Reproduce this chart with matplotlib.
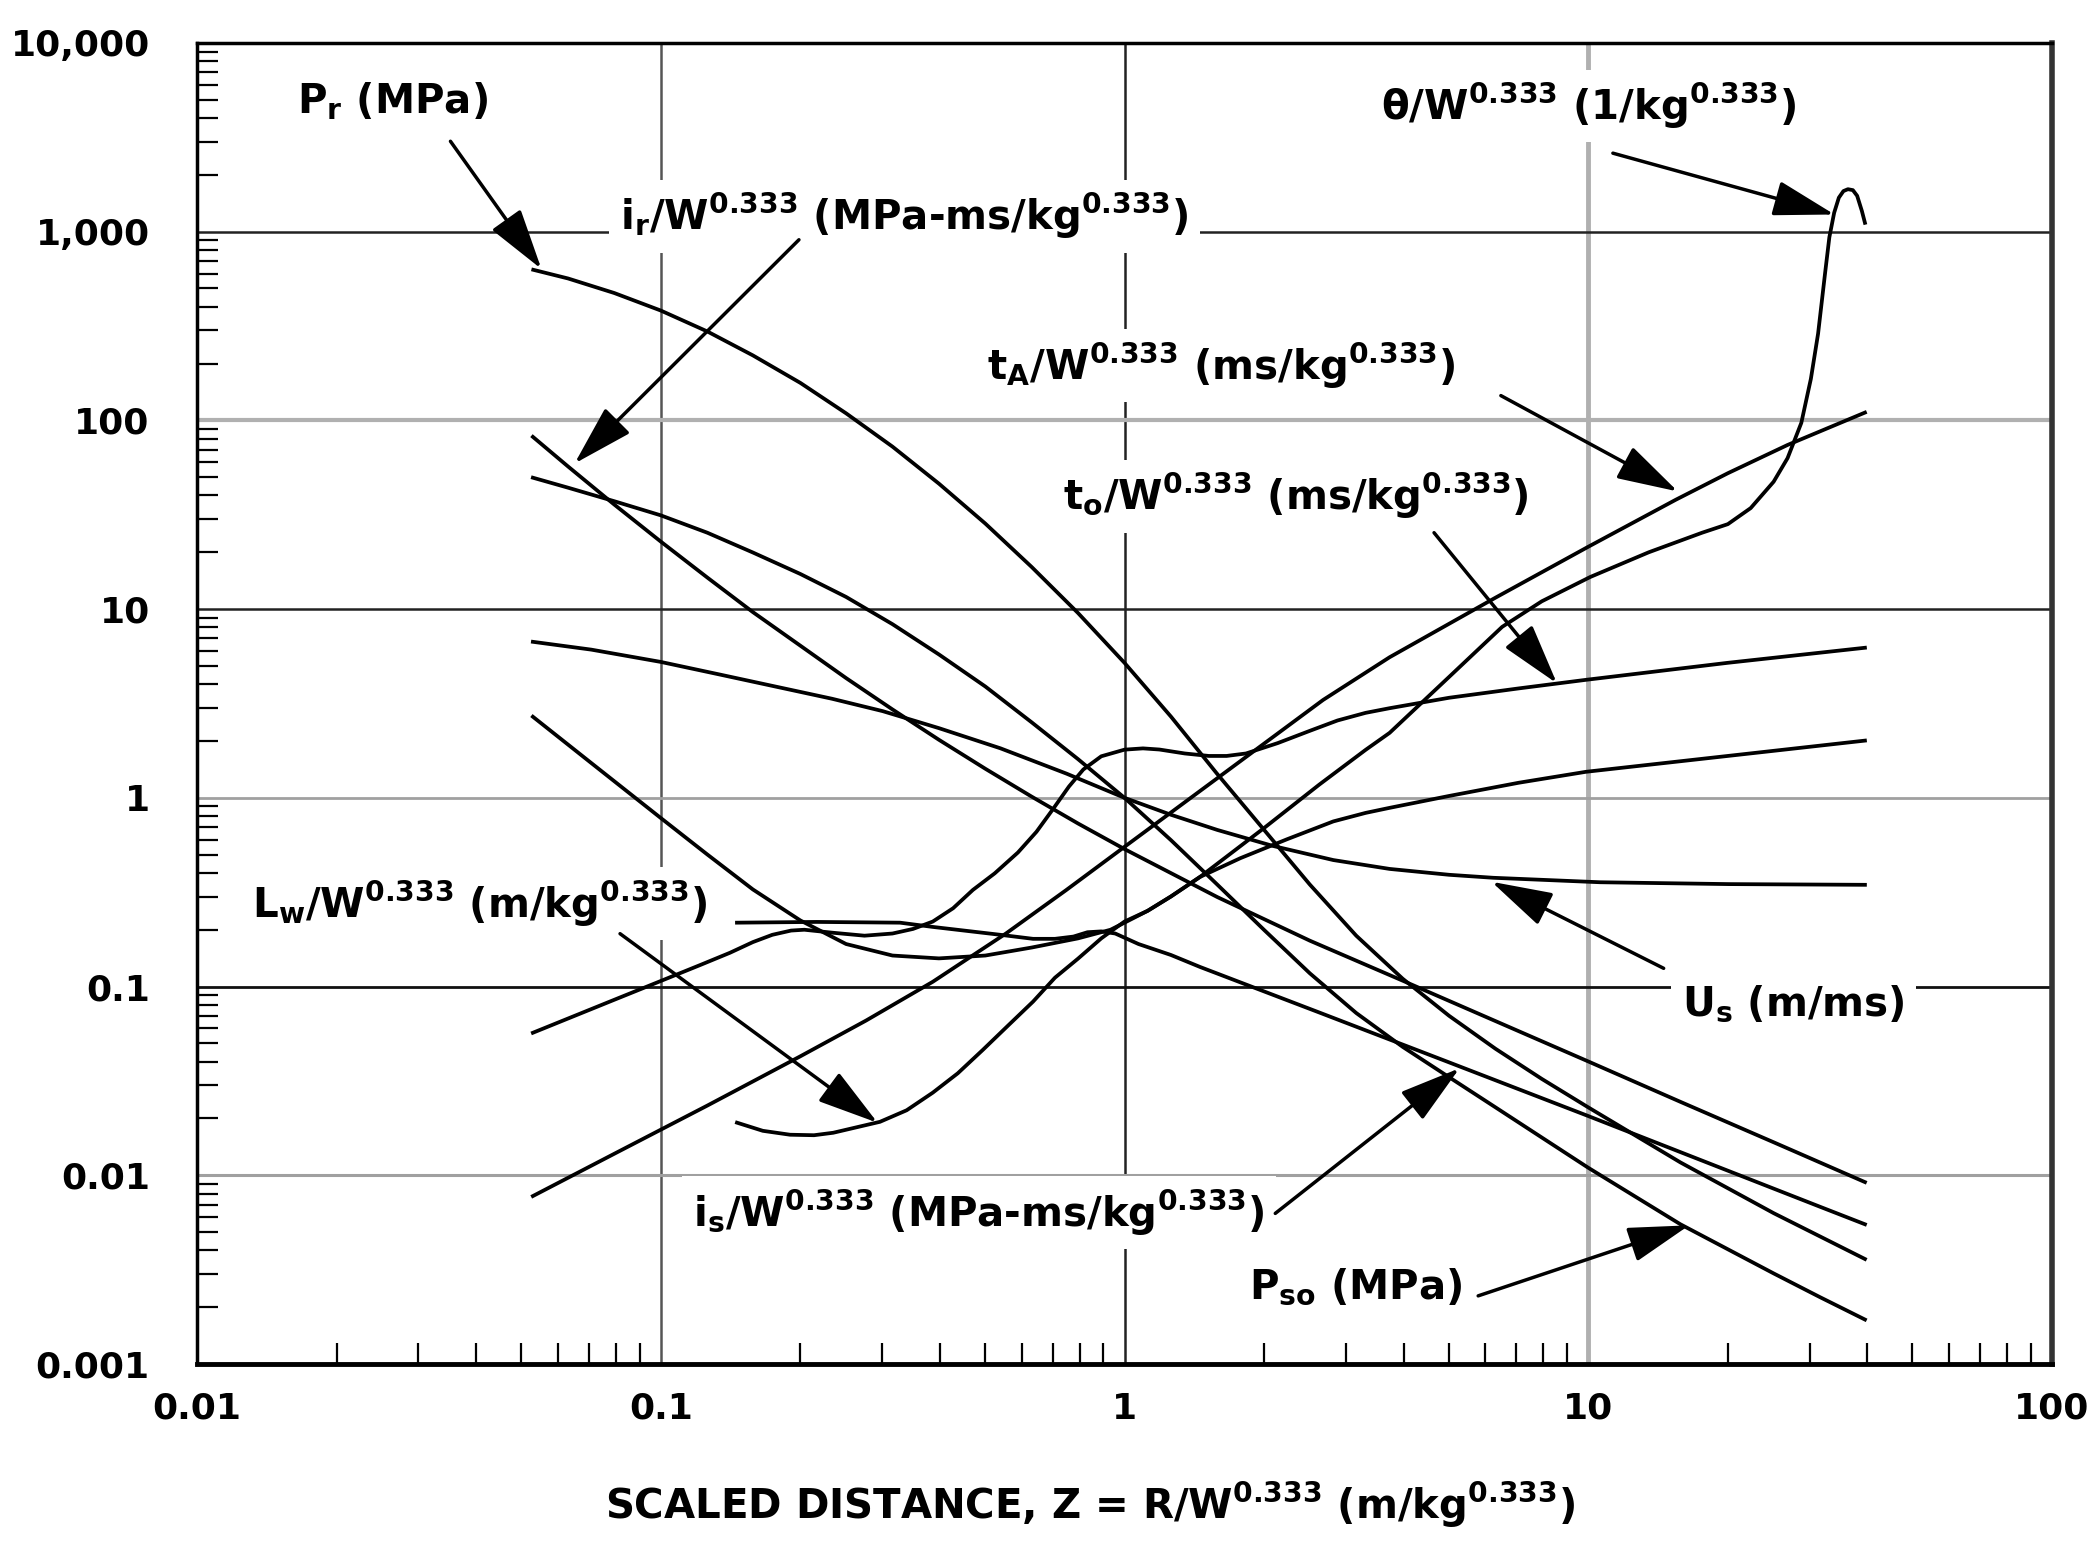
import matplotlib
matplotlib.use("Agg")
import matplotlib.pyplot as plt
from matplotlib.ticker import LogLocator, NullFormatter

plt.rcParams['font.family'] = ['DejaVu Sans']
plt.rcParams['font.weight'] = 'bold'
plt.rcParams['mathtext.fontset'] = 'custom'
plt.rcParams['mathtext.rm'] = 'DejaVu Sans:bold'
plt.rcParams['mathtext.it'] = 'DejaVu Sans:bold'
plt.rcParams['mathtext.bf'] = 'DejaVu Sans:bold'

# curves: scaled distance Z and value
pr_z = [0.0531, 0.0631, 0.0794, 0.1, 0.126, 0.158, 0.2, 0.251, 0.316, 0.398, 0.501, 0.631,
        0.794, 1.0, 1.26, 1.58, 2.0, 2.51, 3.16, 3.98, 5.01, 6.31, 7.94, 10, 15.8, 25.1, 39.5]
pr_v = [628, 565, 473, 382, 296, 221, 158, 109, 72.6, 46.2, 28.4, 16.7,
        9.53, 5.19, 2.69, 1.35, 0.676, 0.347, 0.186, 0.110, 0.070, 0.0468, 0.0324, 0.0229,
        0.0117, 0.0063, 0.0036]

ir_z = [0.053, 0.0631, 0.0794, 0.1, 0.126, 0.158, 0.2, 0.251, 0.316, 0.398, 0.501, 0.631,
        0.794, 1.0, 1.585, 2.51, 3.98, 6.31, 10, 15.8, 25.1, 39.5]
ir_v = [81.8, 57.0, 35.8, 22.8, 14.7, 9.64, 6.40, 4.31, 2.94, 2.03, 1.426, 1.014,
        0.731, 0.535, 0.298, 0.175, 0.1074, 0.0656, 0.0401, 0.0245, 0.01496, 0.0092]

pso_z = [0.053, 0.0631, 0.0794, 0.1, 0.126, 0.158, 0.2, 0.251, 0.316, 0.398, 0.501, 0.631,
         0.794, 1.0, 1.26, 1.585, 2.0, 2.51, 3.16, 3.98, 5.01, 6.31, 7.94, 10, 15.8, 25.1,
         31.6, 39.5]
pso_v = [49.7, 44.0, 37.3, 31.4, 25.4, 19.95, 15.35, 11.6, 8.32, 5.75, 3.89, 2.51,
         1.603, 1.0, 0.596, 0.347, 0.1995, 0.1175, 0.0724, 0.0479, 0.0331, 0.0229, 0.01585,
         0.01096, 0.0055, 0.00302, 0.00226, 0.00172]

us_z = [0.053, 0.0708, 0.1, 0.133, 0.18, 0.234, 0.301, 0.398, 0.54, 0.75, 1.0, 1.26, 1.585,
        2.09, 2.82, 3.73, 5.01, 6.24, 10.6, 20.1, 39.5]
us_v = [6.71, 6.10, 5.25, 4.52, 3.85, 3.35, 2.88, 2.34, 1.83, 1.343, 1.0, 0.813, 0.676,
        0.556, 0.468, 0.42, 0.391, 0.377, 0.357, 0.349, 0.346]

th_z = [0.053, 0.0708, 0.1, 0.126, 0.158, 0.2, 0.251, 0.316, 0.398, 0.501, 0.631, 0.794,
        0.933, 1.0, 1.122, 1.259, 1.455, 2.0, 2.63, 3.31, 3.73, 5.01, 6.52, 7.94, 10.1, 13.5,
        17.6, 20.0, 22.4, 25.1, 26.9, 28.8, 30.2, 31.3, 32.4, 33.1, 33.9, 34.7, 35.5, 36.3,
        37.2, 38.0, 38.9, 39.5]
th_v = [2.69, 1.53, 0.782, 0.501, 0.327, 0.224, 0.168, 0.146, 0.141, 0.146, 0.161, 0.180,
        0.20, 0.218, 0.252, 0.30, 0.381, 0.692, 1.175, 1.795, 2.21, 4.37, 8.05, 11.0, 14.8,
        20.0, 25.4, 28.2, 34.3, 47.3, 63.1, 97, 166, 288, 600, 933, 1259, 1514, 1641, 1679,
        1660, 1549, 1288, 1114]

lw_z = [0.146, 0.166, 0.19, 0.214, 0.2355, 0.297, 0.339, 0.386, 0.437, 0.495, 0.562, 0.635,
        0.708, 0.794, 0.891, 1.0, 1.122, 1.259, 1.455, 1.778, 2.24, 2.82, 3.31, 3.73, 5.01,
        7.08, 9.89, 19.95, 39.5]
lw_v = [0.019, 0.0172, 0.0164, 0.0163, 0.0168, 0.0192, 0.0221, 0.0274, 0.0347, 0.0462,
        0.0624, 0.0832, 0.1114, 0.1406, 0.180, 0.221, 0.252, 0.30, 0.381, 0.479, 0.603,
        0.750, 0.832, 0.885, 1.023, 1.202, 1.374, 1.666, 2.01]

is_z = [0.146, 0.217, 0.328, 0.386, 0.54, 0.635, 0.708, 0.776, 0.832, 0.891, 0.955, 1.072,
        1.259, 1.455, 2.64, 4.99, 10, 31.6, 39.5]
is_v = [0.218, 0.22, 0.218, 0.207, 0.188, 0.179, 0.179, 0.184, 0.194, 0.196, 0.191, 0.168,
        0.147, 0.127, 0.0726, 0.0398, 0.0206, 0.00681, 0.0055]

to_z = [0.053, 0.0794, 0.1, 0.1216, 0.141, 0.158, 0.174, 0.191, 0.204, 0.234, 0.275, 0.316,
        0.35, 0.386, 0.427, 0.471, 0.525, 0.589, 0.646, 0.701, 0.759, 0.815, 0.891, 1.0, 1.096,
        1.189, 1.349, 1.52, 1.66, 1.828, 2.14, 2.51, 2.88, 3.31, 3.73, 5.01, 7.08, 9.89, 19.95,
        39.5]
to_v = [0.0569, 0.0851, 0.107, 0.130, 0.151, 0.172, 0.188, 0.198, 0.20, 0.193, 0.186, 0.191,
        0.202, 0.221, 0.26, 0.325, 0.398, 0.513, 0.661, 0.871, 1.148, 1.413, 1.660, 1.80,
        1.828, 1.803, 1.718, 1.667, 1.667, 1.718, 1.95, 2.265, 2.57, 2.82, 2.985, 3.39, 3.80,
        4.22, 5.19, 6.24]

ta_z = [0.053, 0.0794, 0.126, 0.2, 0.277, 0.386, 0.555, 0.748, 1.0, 1.585, 2.68, 3.73, 6.31,
        10, 15.45, 20.0, 26.9, 39.5]
ta_v = [0.00776, 0.0130, 0.0234, 0.0427, 0.066, 0.106, 0.191, 0.324, 0.55, 1.27, 3.30, 5.56,
        11.5, 21.4, 38.0, 52.5, 74.1, 110]

x_ticks = [0.01, 0.1, 1, 10, 100]
x_labels = ['0.01', '0.1', '1', '10', '100']
y_ticks = [0.001, 0.01, 0.1, 1, 10, 100, 1000, 10000]
y_labels = ['0.001', '0.01', '0.1', '1', '10', '100', '1,000', '10,000']

fig = plt.figure(figsize=(20.89, 15.56), dpi=100)
ax = fig.add_axes([0.0943, 0.1234, 0.888, 0.849])
ax.set_xscale('log')
ax.set_yscale('log')
ax.set_xlim(0.01, 100)
ax.set_ylim(0.001, 10000)

# grid lines, mixed dark and grey like the original
for x, c, w in [(0.1, '#555555', 1.8), (1, '#222222', 1.8), (10, '#b0b0b0', 3.5)]:
    ax.axvline(x, color=c, lw=w, zorder=1)
for y, c, w in [(1000, '#222222', 1.8), (100, '#b0b0b0', 3.0), (10, '#222222', 1.8),
                (1, '#a0a0a0', 2.0), (0.1, '#111111', 2.0), (0.01, '#a0a0a0', 2.2)]:
    ax.axhline(y, color=c, lw=w, zorder=1)

for z, v in [(pr_z, pr_v), (ir_z, ir_v), (pso_z, pso_v), (us_z, us_v), (th_z, th_v),
             (lw_z, lw_v), (is_z, is_v), (to_z, to_v), (ta_z, ta_v)]:
    ax.plot(z, v, color='black', lw=2.7, zorder=2, solid_joinstyle='round')

ax.set_xticks(x_ticks)
ax.set_xticklabels(x_labels)
ax.set_yticks(y_ticks)
ax.set_yticklabels(y_labels)
ax.xaxis.set_minor_locator(LogLocator(base=10, subs=range(2, 10), numticks=20))
ax.yaxis.set_minor_locator(LogLocator(base=10, subs=range(2, 10), numticks=20))
ax.xaxis.set_minor_formatter(NullFormatter())
ax.yaxis.set_minor_formatter(NullFormatter())
ax.tick_params(axis='y', which='major', length=0, pad=34, labelsize=26)
ax.tick_params(axis='x', which='major', length=0, pad=20, labelsize=26)
ax.tick_params(which='minor', direction='in', length=15, width=1.6, color='black')

ax.spines['top'].set_linewidth(2.5)
ax.spines['left'].set_linewidth(2.5)
ax.spines['bottom'].set_linewidth(3.5)
ax.spines['right'].set_linewidth(4)
ax.spines['right'].set_color('#333333')

# labels with arrows: text, text position, arrow start, arrow tip
notes = [
    (r'$\mathrm{P_r}$ (MPa)', (0.0164, 4240), (0.0352, 3013), (0.0553, 634)),
    (r'$\mathrm{i_r/W^{0.333}}$ (MPa-ms/kg$\mathrm{^{0.333}}$)', (0.0817, 1015),
     (0.1986, 906), (0.0652, 59.1)),
    (r'θ/W$\mathrm{^{0.333}}$ (1/kg$\mathrm{^{0.333}}$)', (3.57, 3909), (11.3, 2606), (33.96, 1233)),
    (r'$\mathrm{t_A/W^{0.333}}$ (ms/kg$\mathrm{^{0.333}}$)', (0.505, 164), (6.48, 135.3), (15.6, 42)),
    (r'$\mathrm{t_o/W^{0.333}}$ (ms/kg$\mathrm{^{0.333}}$)', (0.737, 33.4), (4.65, 25.4), (8.56, 4.04)),
    (r'$\mathrm{L_w/W^{0.333}}$ (m/kg$\mathrm{^{0.333}}$)', (0.01312, 0.2317),
     (0.0817, 0.1906), (0.2935, 0.01897)),
    (r'$\mathrm{U_s}$ (m/ms)', (15.95, 0.0707), (14.54, 0.1249), (6.185, 0.3592)),
    (r'$\mathrm{i_s/W^{0.333}}$ (MPa-ms/kg$\mathrm{^{0.333}}$)', (0.1176, 0.00534),
     (2.114, 0.00628), (5.277, 0.0369)),
    (r'$\mathrm{P_{so}}$ (MPa)', (1.852, 0.00222), (5.789, 0.002296), (16.5, 0.00543)),
]
for text, pos, start, tip in notes:
    ax.text(pos[0], pos[1], text, fontsize=29, ha='left', va='baseline', zorder=3,
            bbox=dict(facecolor='white', edgecolor='none', pad=8))
    ax.annotate('', xy=tip, xytext=start, zorder=4,
                arrowprops=dict(arrowstyle='-|>,head_length=1.9,head_width=0.55',
                                mutation_scale=20, lw=2.5, color='black',
                                shrinkA=0, shrinkB=0))

fig.text(0.522, 0.0238, r'SCALED DISTANCE, Z = R/W$\mathrm{^{0.333}}$ (m/kg$\mathrm{^{0.333}}$)',
         fontsize=29, ha='center', va='baseline')

fig.savefig('out.png', dpi=100)
